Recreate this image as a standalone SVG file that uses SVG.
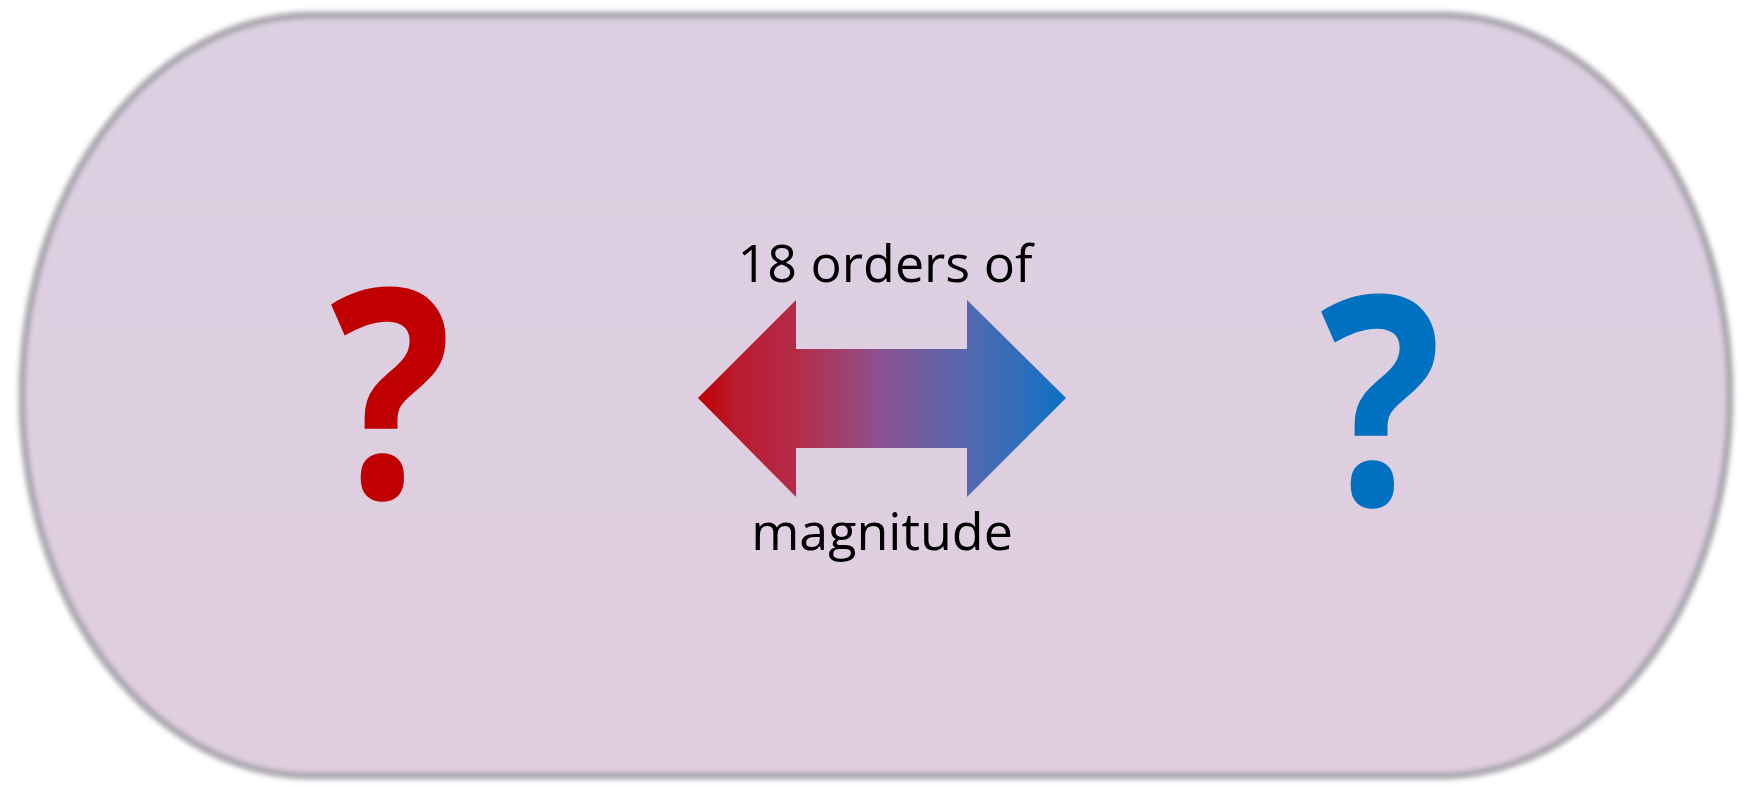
<svg xmlns="http://www.w3.org/2000/svg" width="1747" height="785" viewBox="0 0 1747 785">
  <style>
    .lbl { font-family: "Open Sans", "Liberation Sans", sans-serif; font-size: 52px; fill: #000; text-anchor: middle; }
    .q { font-family: "Open Sans", "Liberation Sans", sans-serif; font-weight: bold; font-size: 292px; text-anchor: middle; }
  </style>
  <defs>
    <linearGradient id="bg" x1="0" y1="0" x2="0" y2="1">
      <stop offset="0" stop-color="#dbd0e2"/>
      <stop offset="1" stop-color="#e0cedf"/>
    </linearGradient>
    <linearGradient id="arrowGrad" x1="698" y1="0" x2="1066" y2="0" gradientUnits="userSpaceOnUse">
      <stop offset="0" stop-color="#c00000"/>
      <stop offset="0.1" stop-color="#bb1a2e"/>
      <stop offset="0.27" stop-color="#b42c48"/>
      <stop offset="0.5" stop-color="#8c5290"/>
      <stop offset="0.73" stop-color="#5468b0"/>
      <stop offset="0.9" stop-color="#2a6ebd"/>
      <stop offset="1" stop-color="#0a70c2"/>
    </linearGradient>
    <filter id="blur" x="-5%" y="-5%" width="110%" height="110%">
      <feGaussianBlur stdDeviation="2.4"/>
    </filter>
  </defs>
  <rect width="1747" height="785" fill="#ffffff"/>
  <g id="container">
    <rect x="22" y="15" width="1708" height="761" rx="290" ry="380" fill="url(#bg)"/>
    <rect x="22" y="15" width="1708" height="761" rx="290" ry="380" fill="none" stroke="#a9a5ad" stroke-width="7" filter="url(#blur)"/>
  </g>
  <g id="left-question">
    <text class="q" x="391" y="498" fill="#c00000" transform="translate(391,0) scale(0.87,1) translate(-391,0)">?</text>
  </g>
  <g id="right-question">
    <text class="q" x="1381" y="505" fill="#0070c0" transform="translate(1381,0) scale(0.87,1) translate(-1381,0)">?</text>
  </g>
  <g id="connectors">
    <polygon points="698,398 796,300 796,349 967,349 967,300 1066,398 967,497 967,448 796,448 796,497" fill="url(#arrowGrad)"/>
  </g>
  <g id="labels">
    <text class="lbl" x="885" y="282">18 orders of</text>
    <text class="lbl" x="882" y="550">magnitude</text>
  </g>
</svg>
